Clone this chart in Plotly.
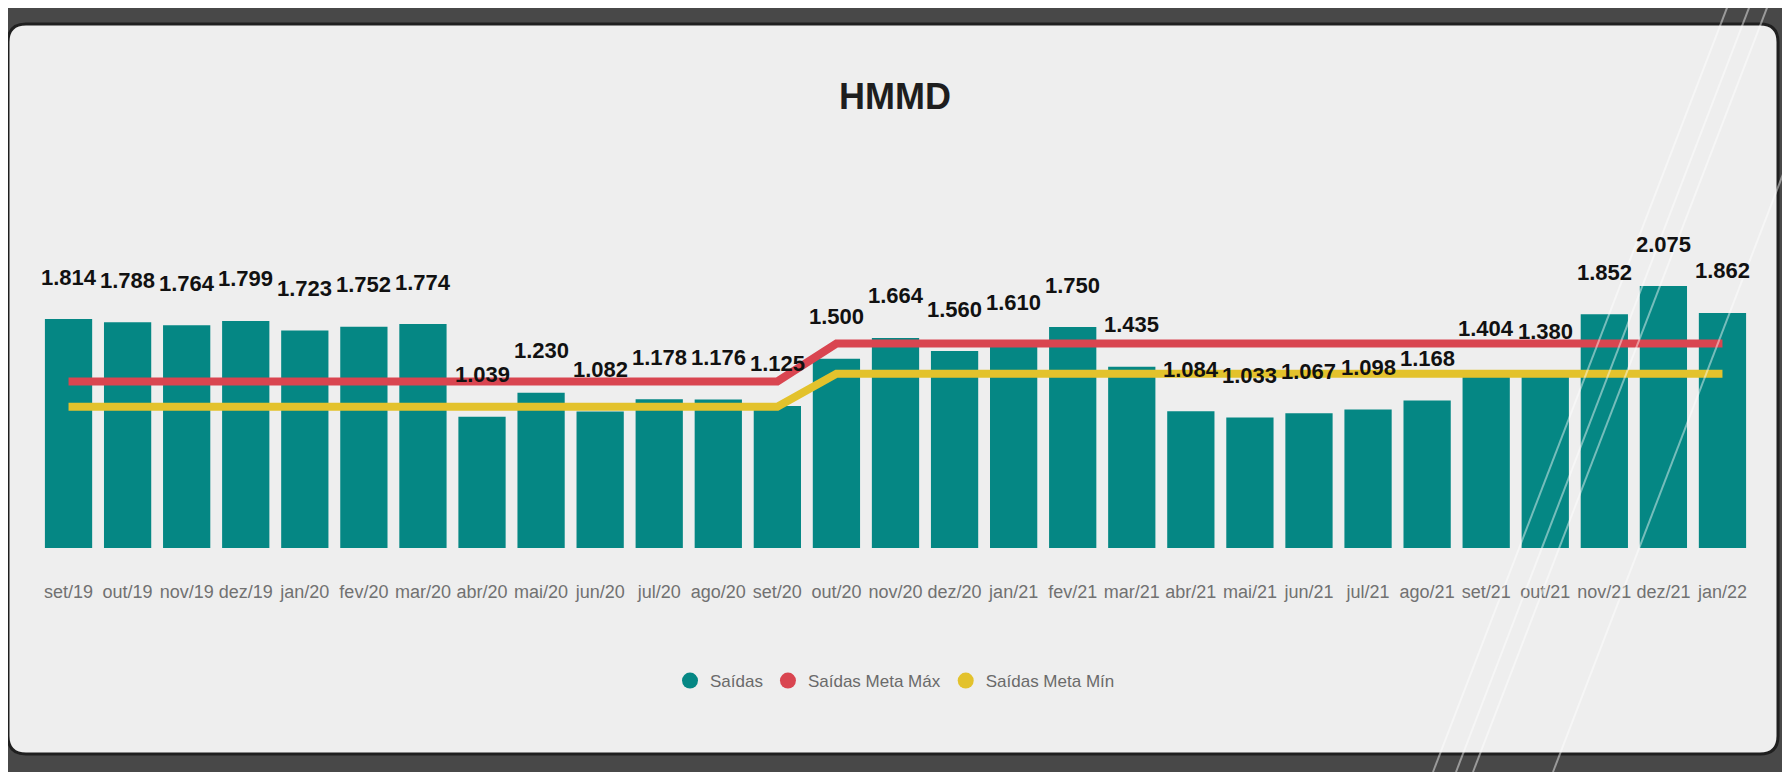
import plotly.graph_objects as go

# dados do painel HMMD
meses = ['set/19', 'out/19', 'nov/19', 'dez/19', 'jan/20', 'fev/20', 'mar/20', 'abr/20',
         'mai/20', 'jun/20', 'jul/20', 'ago/20', 'set/20', 'out/20', 'nov/20', 'dez/20',
         'jan/21', 'fev/21', 'mar/21', 'abr/21', 'mai/21', 'jun/21', 'jul/21', 'ago/21',
         'set/21', 'out/21', 'nov/21', 'dez/21', 'jan/22']
saidas = [1814, 1788, 1764, 1799, 1723, 1752, 1774, 1039, 1230, 1082, 1178, 1176, 1125,
          1500, 1664, 1560, 1610, 1750, 1435, 1084, 1033, 1067, 1098, 1168, 1404, 1380,
          1852, 2075, 1862]
meta_max = [1320, 1320, 1320, 1320, 1320, 1320, 1320, 1320, 1320, 1320, 1320, 1320, 1320,
            1620, 1620, 1620, 1620, 1620, 1620, 1620, 1620, 1620, 1620, 1620, 1620, 1620,
            1620, 1620, 1620]
meta_min = [1120, 1120, 1120, 1120, 1120, 1120, 1120, 1120, 1120, 1120, 1120, 1120, 1120,
            1380, 1380, 1380, 1380, 1380, 1380, 1380, 1380, 1380, 1380, 1380, 1380, 1380,
            1380, 1380, 1380]

TEAL = '#058784'
VERMELHO = '#d94550'
AMARELO = '#e3c22c'
FONTE = 'Liberation Sans, Arial, sans-serif'

W, H = 1790, 772
OFF = 8  # margem padrão do <body> na página gerada


def px_x(x):
    # posição em pixels da página -> coordenada paper
    return (x - OFF) / W


def px_y(y):
    return 1 - (y - OFF) / H


fig = go.Figure()

fig.add_trace(go.Bar(x=meses, y=saidas, marker=dict(color=TEAL, line=dict(width=0)),
                     name='Saídas', showlegend=False))
fig.add_trace(go.Scatter(x=meses, y=meta_max, mode='lines', line=dict(color=VERMELHO, width=8),
                         name='Saídas Meta Máx', showlegend=False))
fig.add_trace(go.Scatter(x=meses, y=meta_min, mode='lines', line=dict(color=AMARELO, width=8),
                         name='Saídas Meta Mín', showlegend=False))

# entradas de legenda com bolinhas
for nome, cor in [('Saídas', TEAL), ('Saídas Meta Máx', VERMELHO), ('Saídas Meta Mín', AMARELO)]:
    fig.add_trace(go.Scatter(x=[None], y=[None], mode='markers', name=nome,
                             marker=dict(symbol='circle', size=16, color=cor)))

# rótulos de dados
anotacoes = []
for mes, v in zip(meses, saidas):
    anotacoes.append(dict(
        x=mes, y=v, xref='x', yref='y', text=f'{v:,}'.replace(',', '.'),
        showarrow=False, yanchor='middle', yshift=42,
        font=dict(family=FONTE, size=22, color='#111111', weight='bold'),
    ))

anotacoes.append(dict(
    x=px_x(895), y=px_y(97), xref='paper', yref='paper', text='HMMD', showarrow=False,
    yanchor='middle', font=dict(family=FONTE, size=36, color='#1e1e1e', weight='bold'),
))

# painel claro com cantos arredondados
x0, x1 = px_x(8), px_x(1778)
yt, yb = px_y(24), px_y(754)
rx, ry = 18 / W, 18 / H
painel = (f'M {x0 + rx},{yb} L {x1 - rx},{yb} Q {x1},{yb} {x1},{yb + ry} '
          f'L {x1},{yt - ry} Q {x1},{yt} {x1 - rx},{yt} L {x0 + rx},{yt} '
          f'Q {x0},{yt} {x0},{yt - ry} L {x0},{yb + ry} Q {x0},{yb} {x0 + rx},{yb} Z')

formas = [
    dict(type='path', path=painel, xref='paper', yref='paper', fillcolor='#eeeeee',
         line=dict(color='#1f1f1f', width=3), layer='below'),
]

# reflexos diagonais do quadro
for topo, base in [(1730, 1433), (1752, 1456), (1770, 1473), (1850, 1553)]:
    formas.append(dict(type='line', xref='paper', yref='paper',
                       x0=px_x(topo), y0=px_y(0), x1=px_x(base), y1=px_y(772),
                       line=dict(color='rgba(255,255,255,0.45)', width=2), layer='above'))

fig.update_layout(
    width=W,
    height=H,
    margin=dict(l=0, r=0, t=0, b=0),
    paper_bgcolor='#484848',
    plot_bgcolor='rgba(0,0,0,0)',
    bargap=0.2,
    xaxis=dict(
        domain=[px_x(39), px_x(1752)],
        range=[-0.5, 28.5],
        showgrid=False,
        showline=False,
        zeroline=False,
        ticks='outside',
        ticklen=27,
        tickangle=0,
        tickcolor='rgba(0,0,0,0)',
        tickfont=dict(family=FONTE, size=18, color='#717171'),
    ),
    yaxis=dict(
        domain=[px_y(548), px_y(270.3)],
        range=[0, 2200],
        showgrid=False,
        showline=False,
        zeroline=False,
        showticklabels=False,
    ),
    legend=dict(
        orientation='h',
        x=px_x(895),
        xanchor='center',
        y=px_y(681),
        yanchor='middle',
        bgcolor='rgba(0,0,0,0)',
        font=dict(family=FONTE, size=17, color='#6a6a6a'),
        itemclick=False,
    ),
    annotations=anotacoes,
    shapes=formas,
)

fig.write_html('out.html')
